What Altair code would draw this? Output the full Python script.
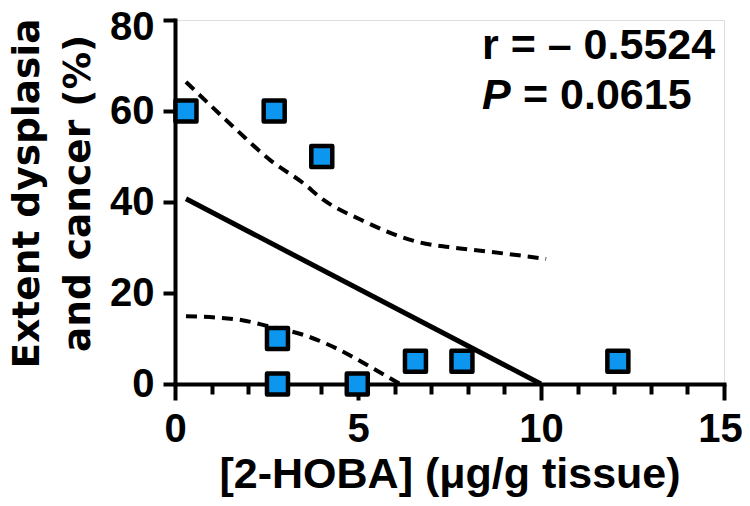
import altair as alt
import pandas as pd

# Data
x_vals = [0.30, 2.71, 4.01, 2.80, 2.80, 4.98, 6.57, 7.84, 12.10]
y_vals = [60, 60, 50, 10, 0, 0, 5, 5, 5]

reg_x = [0.30, 10.00]
reg_y = [40.7, 0.0]

upper_x = [0.30, 1.69, 2.60, 3.51, 4.05, 5.05, 6.69, 7.79, 8.97, 10.14]
upper_y = [66.4, 55.8, 49.2, 44.1, 40.5, 36.2, 31.1, 29.8, 28.7, 27.5]

lower_x = [0.30, 1.69, 2.60, 3.51, 4.42, 5.33, 6.15]
lower_y = [14.9, 14.2, 12.6, 10.8, 7.8, 3.8, 0.0]

x_ticks = list(range(0, 16))
y_ticks = [0, 20, 40, 60, 80]

x_title = "[2-HOBA] (μg/g tissue)"
y_title = ["Extent dysplasia", "and cancer (%)"]
r_text = "r = – 0.5524"
p_letter = "P"
p_text = "= 0.0615"

FONT = "Liberation Sans"
YFONT = "DejaVu Sans"

pts = pd.DataFrame({"x": x_vals, "y": y_vals})
reg = pd.DataFrame({"x": reg_x, "y": reg_y})
up = pd.DataFrame({"x": upper_x, "y": upper_y})
lo = pd.DataFrame({"x": lower_x, "y": lower_y})

x_axis = alt.Axis(
    values=x_ticks,
    labelExpr="datum.value % 5 === 0 ? datum.label : ''",
    tickSize={"condition": {"test": "datum.value % 5 === 0", "value": 16}, "value": 10},
    tickWidth=4, tickColor="black",
    domainWidth=4, domainColor="black", domainCap="square",
    labelFont=FONT, labelFontSize=40, labelFontWeight="bold", labelColor="black",
    labelBaseline="alphabetic", labelPadding=41, labelFlush=False, labelOverlap=False,
    labelOffset={"condition": {"test": "datum.value === 15", "value": -4}, "value": 0},
    grid=False,
    titleFont=FONT, titleFontSize=43, titleFontWeight="bold", titleColor="black",
    titleBaseline="alphabetic", titleY=103,
)
y_axis = alt.Axis(
    values=y_ticks,
    tickSize=12, tickWidth=4, tickColor="black",
    domainWidth=4, domainColor="black", domainCap="square",
    labelFont=FONT, labelFontSize=40, labelFontWeight="bold", labelColor="black",
    labelPadding=9, labelFlush=False, labelOverlap=False,
    labelOffset={"condition": {"test": "datum.value === 80", "value": 7}, "value": 0},
    grid=False,
    titleFont=YFONT, titleFontSize=37.5, titleFontWeight="bold", titleColor="black",
    titleAngle=-90, titleAlign="center", titleBaseline="alphabetic",
    titleX=-137, titleY=173, titleLineHeight=51,
)

xs = alt.Scale(domain=[0, 15], nice=False, zero=False)
ys = alt.Scale(domain=[0, 80], nice=False)

X = alt.X("x:Q", scale=xs, axis=x_axis, title=x_title)
Y = alt.Y("y:Q", scale=ys, axis=y_axis, title=y_title)

reg_line = alt.Chart(reg).mark_line(color="black", strokeWidth=5).encode(x=X, y=Y)
up_line = alt.Chart(up).mark_line(color="black", strokeWidth=4, strokeDash=[11, 7],
                                  interpolate="monotone").encode(x=X, y=Y)
lo_line = alt.Chart(lo).mark_line(color="black", strokeWidth=4, strokeDash=[11, 7],
                                  interpolate="monotone").encode(x=X, y=Y)

points = alt.Chart(pts).mark_point(
    shape="square", filled=True, fill="#0D96F0", stroke="black",
    strokeWidth=4.5, size=441, opacity=1, fillOpacity=1, strokeOpacity=1,
    strokeJoin="round",
).encode(x=X, y=Y)

ann = pd.DataFrame({"r": [r_text], "p": [p_letter], "pv": [p_text]})
t1 = alt.Chart(ann).mark_text(font=FONT, fontSize=43, fontWeight="bold", align="left",
                              baseline="alphabetic", color="black").encode(
    x=alt.value(307), y=alt.value(39), text="r:N")
t2 = alt.Chart(ann).mark_text(font=FONT, fontSize=43, fontWeight="bold", fontStyle="italic",
                              align="left", baseline="alphabetic", color="black").encode(
    x=alt.value(307), y=alt.value(89), text="p:N")
t3 = alt.Chart(ann).mark_text(font=FONT, fontSize=43, fontWeight="bold", align="left",
                              baseline="alphabetic", color="black").encode(
    x=alt.value(348), y=alt.value(89), text="pv:N")

chart = alt.layer(reg_line, up_line, lo_line, points, t1, t2, t3).properties(
    width=549, height=364,
    padding={"left": 167, "top": 12, "right": 18, "bottom": 114},
    autosize=alt.AutoSizeParams(type="none"),
).configure_view(stroke=None).configure(background="white")

chart.save("out.html", embed_options={"renderer": "svg", "actions": False})
